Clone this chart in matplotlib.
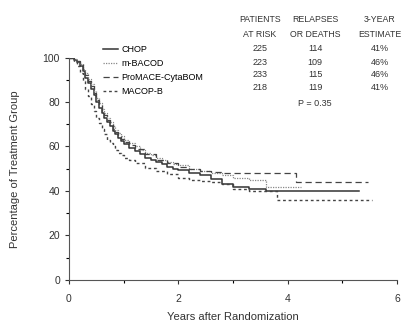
import matplotlib
matplotlib.use('Agg')
import matplotlib.pyplot as plt

plt.rcParams['font.family'] = ['Liberation Sans', 'DejaVu Sans']

# Kaplan-Meier style data (years, percent)
t_early = [0, 0.05, 0.1, 0.15, 0.2, 0.25, 0.3, 0.35, 0.4, 0.45, 0.5,
           0.55, 0.6, 0.65, 0.7, 0.75, 0.8, 0.85, 0.9, 0.95, 1.0]

t_chop = t_early + [1.1, 1.2, 1.3, 1.4, 1.5, 1.6, 1.7, 1.8, 1.9, 2.0, 2.2, 2.4, 2.6, 2.8, 3.0, 3.3, 3.6, 5.3]
s_chop = [100, 100, 99, 98, 96, 94, 91, 88.5, 86, 83, 80, 77.5, 75, 73, 71, 69, 67, 65.5, 64, 62.5, 61,
          59.5, 58, 56.5, 55, 54, 53, 52, 51, 50, 49.5, 48, 47, 45.5, 43, 42, 41, 40, 40]

t_mbacod = t_early + [1.1, 1.2, 1.3, 1.4, 1.5, 1.6, 1.7, 1.8, 1.9, 2.0, 2.2, 2.4, 2.6, 2.8, 3.0, 3.3, 3.6, 4.25]
s_mbacod = [100, 100, 99.5, 98.5, 97, 95, 93, 90.5, 88, 85, 82, 79.5, 77, 75, 73, 71, 69, 67.5, 66, 64.5, 63,
            61.5, 60, 58.5, 57, 56, 55, 54, 53, 52, 51.5, 50, 49, 48, 47, 46, 45, 42, 42]

t_promace = t_early + [1.1, 1.2, 1.4, 1.6, 1.8, 2.0, 2.2, 2.4, 2.6, 2.8, 4.15, 5.47]
s_promace = [100, 100, 99.5, 98.5, 97, 94.5, 92, 89.5, 87, 84, 81, 78.5, 76, 74, 72, 70, 68, 66.5, 65, 63.5, 62,
             60.5, 59, 56.5, 54, 52.5, 51, 50, 49, 48.5, 48, 44, 44]

t_macopb = t_early + [1.1, 1.2, 1.4, 1.6, 1.8, 2.0, 2.2, 2.4, 2.6, 2.8, 3.0, 3.3, 3.8, 5.55]
s_macopb = [100, 99.5, 98, 96, 93, 89.5, 86, 82.5, 79, 76, 73, 70.5, 68, 65.5, 63, 61.5, 60, 58.5, 57, 56, 55,
            54, 52.5, 50.5, 49, 47.5, 46, 45, 44.5, 44, 43, 41, 40, 36, 36]

labels = ['CHOP', 'm-BACOD', 'ProMACE-CytaBOM', 'MACOP-B']
patients = [225, 223, 233, 218]
relapses = [114, 109, 115, 119]
estimates = ['41%', '46%', '46%', '41%']

fig = plt.figure(figsize=(4.03, 3.27), dpi=100)
ax = fig.add_axes([0.171, 0.144, 0.814, 0.68])

ax.step(t_chop, s_chop, where='post', color='#333333', lw=1.1, label=labels[0])
ax.step(t_mbacod, s_mbacod, where='post', color='#888888', lw=0.9, ls=(0, (1, 1)), label=labels[1])
ax.step(t_promace, s_promace, where='post', color='#444444', lw=0.9, ls=(0, (5, 3)), label=labels[2])
ax.step(t_macopb, s_macopb, where='post', color='#444444', lw=1.0, ls=(0, (2, 2)), label=labels[3])

ax.set_xlim(0, 6)
ax.set_ylim(0, 100)
ax.set_xticks([0, 2, 4, 6])
ax.set_xticks([1, 3, 5], minor=True)
ax.set_yticks([0, 20, 40, 60, 80, 100])
ax.set_yticks([10, 30, 50, 70, 90], minor=True)
ax.tick_params(labelsize=7.5, length=3, width=0.8, colors='#333333')
ax.tick_params(axis='x', pad=7)
ax.tick_params(which='minor', length=2, width=0.8)
ax.spines['top'].set_visible(False)
ax.spines['right'].set_visible(False)
for s in ['left', 'bottom']:
    ax.spines[s].set_color('#555555')

ax.set_xlabel('Years after Randomization', fontsize=8, color='#333333', labelpad=6)
ax.set_ylabel('Percentage of Treatment Group', fontsize=8, color='#333333', labelpad=16)

ax.legend(loc='upper left', bbox_to_anchor=(0.245, 0.875), bbox_transform=fig.transFigure,
          frameon=False, fontsize=6.5, handlelength=1.6, handletextpad=0.4,
          labelspacing=0.55, borderpad=0)

# table to the right of the legend
cols = [0.645, 0.782, 0.943]
hdr = dict(ha='center', va='center', fontsize=6.3, color='#333333')
fig.text(cols[0], 0.939, 'PATIENTS', **hdr)
fig.text(cols[0], 0.896, 'AT RISK', **hdr)
fig.text(cols[1], 0.939, 'RELAPSES', **hdr)
fig.text(cols[1], 0.896, 'OR DEATHS', **hdr)
fig.text(cols[2], 0.939, '3-YEAR', **hdr)
fig.text(cols[2], 0.896, 'ESTIMATE', **hdr)

row_y = [0.853, 0.810, 0.771, 0.731]
cell = dict(ha='center', va='center', fontsize=6.5, color='#333333')
for i in range(4):
    fig.text(cols[0], row_y[i], str(patients[i]), **cell)
    fig.text(cols[1], row_y[i], str(relapses[i]), **cell)
    fig.text(cols[2], row_y[i], estimates[i], **cell)
fig.text(cols[1], 0.682, 'P = 0.35', **cell)

fig.savefig('out.png', dpi=100)
